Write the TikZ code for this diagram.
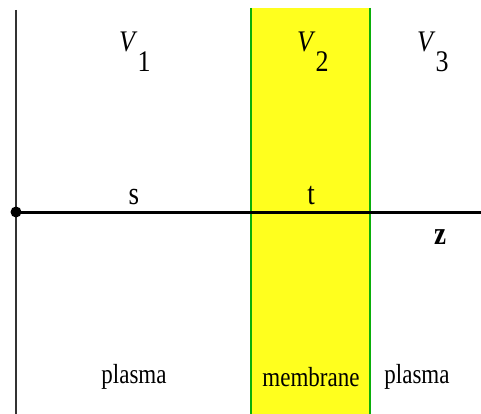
\documentclass[tikz,border=0pt]{standalone}
\usepackage{fontspec}
\setmainfont{Liberation Serif}
\definecolor{memyellow}{RGB}{255,255,30}
\definecolor{memgreen}{RGB}{10,175,10}
\tikzset{
  x=1pt,y=-1pt,
  lbl/.style={inner sep=0pt,font=\fontsize{23}{23}\selectfont},
  biglbl/.style={inner sep=0pt,font=\fontsize{27}{27}\selectfont},
  vlbl/.style={inner sep=0pt,anchor=west,font=\fontsize{26}{26}\selectfont},
}
\newcommand{\vsym}[1]{\scalebox{1}[1.15]{\textit{V}}\raisebox{-20pt}{\scalebox{1}[1.15]{#1}}}
\newcommand{\tall}[1]{\scalebox{1}[1.2]{#1}}
\begin{document}
\begin{tikzpicture}
\useasboundingbox (0,0) rectangle (481,414);
\fill[memyellow] (251,8) rectangle (370,414);
\draw[memgreen,line width=2.2pt] (251,8) -- (251,414);
\draw[memgreen,line width=2.2pt] (370,8) -- (370,414);
\draw[black!80,line width=1.4pt] (16,10) -- (16,414);
\coordinate (o) at (16,212);
\coordinate (zend) at (481,212);
\draw[black,line width=3pt] (o) -- (zend);
\fill[black] (o) circle (5.5);
\node[vlbl] (v1) at (119,52) {\vsym{1}};
\node[vlbl] (v2) at (297,52) {\vsym{2}};
\node[vlbl] (v3) at (417,52) {\vsym{3}};
\node[biglbl] (s) at (134,197) {\tall{s}};
\node[biglbl] (t) at (311,196) {\tall{t}};
\node[biglbl] (z) at (440,237) {\tall{\textbf{z}}};
\node[lbl] (p1) at (134,377) {\tall{plasma}};
\node[lbl] (mem) at (311,377) {\tall{membrane}};
\node[lbl] (p2) at (417,377) {\tall{plasma}};
\end{tikzpicture}
\end{document}
